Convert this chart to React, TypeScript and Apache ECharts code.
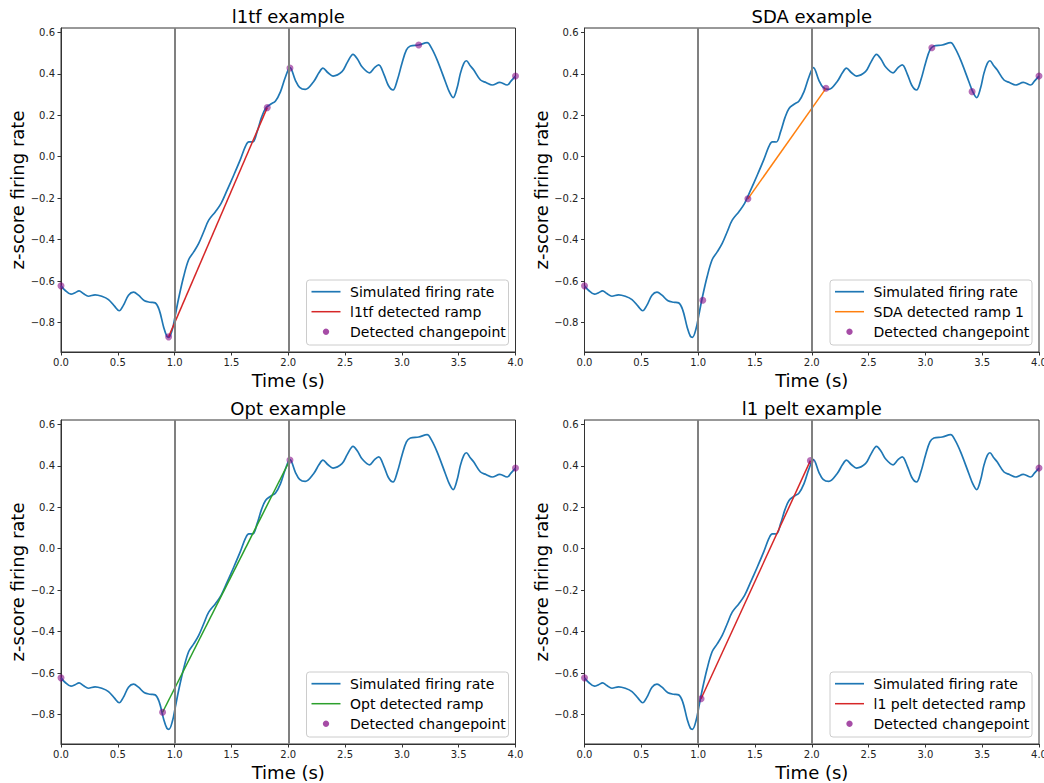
import { useEffect, useRef } from "react";
import * as echarts from "echarts";

// Simulated z-scored firing rate (time in seconds)
const timeS = [
  0, 0.035, 0.088, 0.124, 0.159, 0.197, 0.241, 0.3, 0.359, 0.418, 0.471, 0.512, 0.55, 0.594, 0.638,
  0.682, 0.735, 0.785, 0.829, 0.865, 0.903, 0.932, 0.95, 0.982, 1.006, 1.035, 1.079, 1.124, 1.168,
  1.212, 1.256, 1.3, 1.359, 1.409, 1.462, 1.521, 1.579, 1.624, 1.653, 1.688, 1.726, 1.765, 1.8,
  1.844, 1.888, 1.932, 1.976, 2.015, 2.062, 2.1, 2.15, 2.223, 2.27, 2.305, 2.35, 2.394, 2.473,
  2.52, 2.57, 2.61, 2.649, 2.716, 2.76, 2.796, 2.84, 2.88, 2.922, 2.96, 3.001, 3.04, 3.075, 3.148,
  3.222, 3.26, 3.31, 3.383, 3.42, 3.451, 3.485, 3.515, 3.545, 3.568, 3.6, 3.633, 3.692, 3.74,
  3.795, 3.862, 3.927, 3.96, 4.0,
];
const zRate = [
  -0.623, -0.644, -0.663, -0.656, -0.647, -0.66, -0.673, -0.666, -0.673, -0.689, -0.721, -0.743,
  -0.716, -0.668, -0.653, -0.668, -0.695, -0.702, -0.705, -0.74, -0.821, -0.866, -0.871, -0.829,
  -0.764, -0.684, -0.579, -0.496, -0.459, -0.418, -0.362, -0.306, -0.265, -0.225, -0.161, -0.088,
  -0.013, 0.051, 0.072, 0.071, 0.121, 0.19, 0.233, 0.253, 0.269, 0.314, 0.386, 0.43, 0.37, 0.335,
  0.325, 0.362, 0.405, 0.427, 0.405, 0.389, 0.41, 0.455, 0.494, 0.47, 0.434, 0.405, 0.43, 0.443,
  0.4, 0.345, 0.322, 0.37, 0.451, 0.515, 0.534, 0.539, 0.55, 0.525, 0.467, 0.362, 0.31, 0.285,
  0.33, 0.402, 0.45, 0.463, 0.44, 0.418, 0.37, 0.358, 0.346, 0.359, 0.346, 0.365, 0.389,
];

// Changepoints [time, value] and detected ramps per method
const l1tfChangepoints = [[0, -0.623], [0.947, -0.869], [1.815, 0.237], [2.015, 0.428], [3.148, 0.539], [4.0, 0.389]];
const l1tfRamp = [[0.947, -0.869], [1.815, 0.237]];
const sdaChangepoints = [[0, -0.623], [1.041, -0.692], [1.438, -0.203], [2.125, 0.33], [3.057, 0.526], [3.411, 0.314], [4.0, 0.389]];
const sdaRamp = [[1.438, -0.203], [2.125, 0.33]];
const optChangepoints = [[0, -0.623], [0.894, -0.789], [2.015, 0.428], [4.0, 0.389]];
const optRamp = [[0.894, -0.789], [2.015, 0.428]];
const peltChangepoints = [[0, -0.623], [1.026, -0.724], [1.988, 0.425], [4.0, 0.389]];
const peltRamp = [[1.026, -0.724], [1.988, 0.425]];

// Reference times drawn as vertical lines
const eventTimes = [1, 2];
const yTicks = [-0.8, -0.6, -0.4, -0.2, 0.0, 0.2, 0.4, 0.6];

const panels = [
  { title: "l1tf example", rampName: "l1tf detected ramp", rampColor: "#d62728", cps: l1tfChangepoints, ramp: l1tfRamp },
  { title: "SDA example", rampName: "SDA detected ramp 1", rampColor: "#ff7f0e", cps: sdaChangepoints, ramp: sdaRamp },
  { title: "Opt example", rampName: "Opt detected ramp", rampColor: "#2ca02c", cps: optChangepoints, ramp: optRamp },
  { title: "l1 pelt example", rampName: "l1 pelt detected ramp", rampColor: "#d62728", cps: peltChangepoints, ramp: peltRamp },
];

const FONT = "DejaVu Sans";
const LEFTS = [61, 584.5];
const TOPS = [28, 420];
const PW = 454.5;
const PH = 324;
const Y_MIN = -0.942;
const Y_MAX = 0.621;
const AXIS_COLOR = "#333";
const CP_COLOR = "rgba(128,0,128,0.7)";

const fmtMinus = (v: number) => v.toFixed(1).replace("-", "\u2212");

function buildOption() {
  const grid: any[] = [];
  const xAxis: any[] = [];
  const yAxis: any[] = [];
  const series: any[] = [];
  const title: any[] = [];
  const graphic: any[] = [];
  const curve = timeS.map((t, k) => [t, zRate[k]]);

  panels.forEach((p, i) => {
    const left = LEFTS[i % 2];
    const top = TOPS[Math.floor(i / 2)];
    grid.push({
      left, top, width: PW, height: PH, show: true, borderColor: AXIS_COLOR, borderWidth: 1,
      backgroundColor: "transparent", outerBoundsMode: "none",
    });
    title.push({
      text: p.title, left: left + PW / 2, top: top - 21, textAlign: "center", padding: 0,
      textStyle: { fontFamily: FONT, fontSize: 18, fontWeight: "normal", color: "#000", lineHeight: 18 },
    });
    xAxis.push({
      type: "value", gridIndex: i, min: 0, max: 4, interval: 0.5,
      axisLine: { show: true, onZero: false, lineStyle: { color: AXIS_COLOR, width: 1 } },
      axisTick: { show: true, length: 3.5, lineStyle: { color: AXIS_COLOR } },
      axisLabel: { formatter: (v: number) => fmtMinus(v), fontFamily: FONT, fontSize: 10, color: "#222", margin: 5 },
      splitLine: { show: false },
      name: "Time (s)", nameLocation: "middle", nameGap: 19,
      nameTextStyle: { fontFamily: FONT, fontSize: 18, color: "#000" },
    });
    yAxis.push({
      type: "value", gridIndex: i, min: Y_MIN, max: Y_MAX,
      axisLine: { show: true, onZero: false, lineStyle: { color: AXIS_COLOR, width: 1 } },
      axisTick: { show: true, length: 3.5, lineStyle: { color: AXIS_COLOR }, customValues: yTicks },
      axisLabel: { customValues: yTicks, formatter: (v: number) => fmtMinus(v), fontFamily: FONT, fontSize: 10, color: "#222", margin: 6 },
      splitLine: { show: false },
      name: "z-score firing rate", nameLocation: "middle", nameGap: 32, nameRotate: 90,
      nameTextStyle: { fontFamily: FONT, fontSize: 18, color: "#000" },
    });
    series.push({
      type: "line", name: "Simulated firing rate", xAxisIndex: i, yAxisIndex: i, data: curve,
      smooth: 0.35, symbol: "none", showSymbol: false, z: 2,
      lineStyle: { color: "#1f77b4", width: 1.7 }, itemStyle: { color: "#1f77b4" },
      emphasis: { disabled: true },
      markLine: {
        silent: true, symbol: ["none", "none"], label: { show: false },
        lineStyle: { color: "#808080", width: 2, type: "solid" },
        emphasis: { disabled: true },
        data: eventTimes.map((t) => ({ xAxis: t })),
      },
    });
    series.push({
      type: "line", name: p.rampName, xAxisIndex: i, yAxisIndex: i, data: p.ramp,
      symbol: "none", showSymbol: false, z: 3,
      lineStyle: { color: p.rampColor, width: 1.5 }, itemStyle: { color: p.rampColor },
      emphasis: { disabled: true },
    });
    series.push({
      type: "scatter", name: "Detected changepoint", xAxisIndex: i, yAxisIndex: i, data: p.cps,
      symbolSize: 7, z: 4, itemStyle: { color: CP_COLOR }, emphasis: { disabled: true },
    });

    // Legend box in the lower-right corner of each panel
    const bw = 202;
    const bh = 65;
    const bx = left + PW - 7 - bw;
    const by = top + PH - 7 - bh;
    const rows = [by + 11.7, by + 31.7, by + 51.7];
    const labels = ["Simulated firing rate", p.rampName, "Detected changepoint"];
    graphic.push({
      type: "rect", z: 100, silent: true,
      shape: { x: bx, y: by, width: bw, height: bh, r: 3 },
      style: { fill: "rgba(255,255,255,0.8)", stroke: "#cccccc", lineWidth: 1 },
    });
    graphic.push({
      type: "line", z: 101, silent: true,
      shape: { x1: bx + 5, y1: rows[0], x2: bx + 34, y2: rows[0] },
      style: { stroke: "#1f77b4", lineWidth: 1.7 },
    });
    graphic.push({
      type: "line", z: 101, silent: true,
      shape: { x1: bx + 5, y1: rows[1], x2: bx + 34, y2: rows[1] },
      style: { stroke: p.rampColor, lineWidth: 1.5 },
    });
    graphic.push({
      type: "circle", z: 101, silent: true,
      shape: { cx: bx + 19.5, cy: rows[2], r: 3.2 },
      style: { fill: CP_COLOR },
    });
    labels.forEach((txt, r) => {
      graphic.push({
        type: "text", z: 101, silent: true, x: bx + 43.5, y: rows[r],
        style: { text: txt, fontFamily: FONT, fontSize: 14, fill: "#000", verticalAlign: "middle", align: "left" },
      });
    });
  });

  return { animation: false, backgroundColor: "#fff", title, grid, xAxis, yAxis, series, graphic };
}

export default function App() {
  const ref = useRef<HTMLDivElement>(null);
  useEffect(() => {
    if (!ref.current) return;
    const chart = echarts.init(ref.current, undefined, { renderer: "svg" });
    chart.setOption(buildOption() as any);
    return () => chart.dispose();
  }, []);
  return (
    <div
      ref={ref}
      style={{ position: "absolute", left: 0, top: 0, width: 1044, height: 783, background: "#fff" }}
    />
  );
}
